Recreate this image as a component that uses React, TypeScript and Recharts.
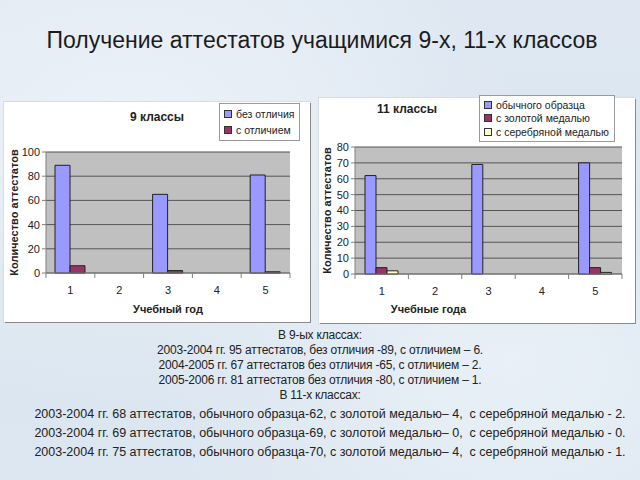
import React from 'react';
import { BarChart, Bar, XAxis, YAxis, CartesianGrid, Legend } from 'recharts';

const years = ['1', '2', '3', '4', '5'];

// 9 классы
const ninthPlain = [89, null, 65, null, 81];
const ninthHonors = [6, null, 2, null, 1];
const ninthTicks = [0, 20, 40, 60, 80, 100];

// 11 классы
const eleventhRegular = [62, null, 69, null, 70];
const eleventhGold = [4, null, null, null, 4];
const eleventhSilver = [2, null, null, null, 1];
const eleventhTicks = [0, 10, 20, 30, 40, 50, 60, 70, 80];

const summary9 = [
  'В 9-ых классах:',
  '2003-2004 гг. 95 аттестатов, без отличия -89, с отличием – 6.',
  '2004-2005 гг. 67 аттестатов без отличия -65, с отличием – 2.',
  '2005-2006 гг. 81 аттестатов без отличия -80, с отличием – 1.',
  'В 11-х классах:',
];
const summary11 = [
  '2003-2004 гг. 68 аттестатов, обычного образца-62, с золотой медалью– 4,  с серебряной медалью - 2.',
  '2003-2004 гг. 69 аттестатов, обычного образца-69, с золотой медалью– 0,  с серебряной медалью - 0.',
  '2003-2004 гг. 75 аттестатов, обычного образца-70, с золотой медалью– 4,  с серебряной медалью - 1.',
];

const FONT = '"Liberation Sans", Arial, sans-serif';

const ninthData = years.map((year, i) => ({ year, plain: ninthPlain[i], honors: ninthHonors[i] }));
const eleventhData = years.map((year, i) => ({
  year,
  regular: eleventhRegular[i],
  gold: eleventhGold[i],
  silver: eleventhSilver[i],
}));

// category tick: label under the centre, small marks on the category borders (like Excel)
const CategoryTick = (props: any) => {
  const { x, y, payload, index, band } = props;
  return (
    <g>
      <text x={x} y={y + 21} textAnchor="middle" fontSize={11} fill="#222" fontFamily={FONT}>
        {payload.value}
      </text>
      <line x1={x - band / 2} x2={x - band / 2} y1={y} y2={y + 5} stroke="#808080" />
      {index === years.length - 1 && (
        <line x1={x + band / 2} x2={x + band / 2} y1={y} y2={y + 5} stroke="#808080" />
      )}
    </g>
  );
};

const BoxLegend = ({ payload, rowHeight }: any) => (
  <div
    style={{
      border: '1px solid #9a9a9a',
      background: '#fff',
      padding: '2px 5px 2px 4px',
      fontFamily: FONT,
      fontSize: 10.5,
      color: '#222',
    }}
  >
    {(payload || []).map((entry: any) => (
      <div key={entry.value} style={{ display: 'flex', alignItems: 'center', height: rowHeight, whiteSpace: 'nowrap' }}>
        <span
          style={{
            display: 'inline-block',
            width: 6,
            height: 6,
            background: entry.color,
            border: '1px solid #333',
            marginRight: 4,
          }}
        />
        <span>{entry.value}</span>
      </div>
    ))}
  </div>
);

const axisTick = { fontSize: 11, fill: '#222', fontFamily: FONT };
const axisLabelStyle = { fontSize: 11, fontWeight: 'bold', fill: '#222', fontFamily: FONT, textAnchor: 'middle' };

const panelStyle = (left: number, top: number, width: number, height: number): React.CSSProperties => ({
  position: 'absolute',
  left,
  top,
  width,
  height,
  background: '#fff',
  boxShadow: '1px 1px 0 #8a8a8a, 0 0 0 1px #d6dde4',
});

const L = { left: 4, top: 102, width: 306, height: 220, yAxis: 42, margin: { top: 50, right: 20, bottom: 0, left: 0 } };
const R = { left: 319, top: 98, width: 316, height: 225, yAxis: 36, margin: { top: 49, right: 13, bottom: 0, left: 0 } };
const bandL = (L.width - L.margin.right - L.yAxis) / years.length;
const bandR = (R.width - R.margin.right - R.yAxis) / years.length;

export default function App() {
  return (
    <div
      style={{
        position: 'absolute',
        left: 0,
        top: 0,
        width: 640,
        height: 480,
        overflow: 'hidden',
        background:
          'radial-gradient(ellipse at 20% 30%, #eef3f9 0%, rgba(238,243,249,0) 55%), radial-gradient(ellipse at 80% 75%, #e9f0f7 0%, rgba(233,240,247,0) 50%), linear-gradient(180deg, #dfe8f2 0%, #d8e4ef 55%, #dde7f1 100%)',
        fontFamily: FONT,
      }}
    >
      <div
        style={{
          position: 'absolute',
          left: 0,
          width: 644,
          top: 26,
          textAlign: 'center',
          fontSize: 23,
          lineHeight: '28px',
          color: '#1c1c1c',
        }}
      >
        Получение аттестатов учащимися 9-х, 11-х классов
      </div>

      {/* 9 классы */}
      <div style={panelStyle(L.left, L.top, L.width, L.height)}>
        <BarChart width={L.width} height={L.height} data={ninthData} margin={L.margin} barSize={15} barGap={0}>
          <CartesianGrid vertical={false} stroke="#555" fill="#C0C0C0" />
          <XAxis
            dataKey="year"
            height={L.height - L.margin.top - 121}
            axisLine={{ stroke: '#808080' }}
            tickLine={false}
            tickSize={0}
            tickMargin={0}
            interval={0}
            tick={<CategoryTick band={bandL} />}
            label={{ value: 'Учебный год', position: 'insideBottom', offset: 9, style: axisLabelStyle }}
          />
          <YAxis
            width={L.yAxis}
            domain={[0, 100]}
            ticks={ninthTicks}
            interval={0}
            tick={axisTick}
            tickSize={4}
            tickMargin={2}
            axisLine={{ stroke: '#808080' }}
            tickLine={{ stroke: '#808080' }}
            label={{ value: 'Количество аттестатов', angle: -90, position: 'insideLeft', offset: 10, style: axisLabelStyle }}
          />
          <Legend
            layout="vertical"
            align="center"
            verticalAlign="middle"
            wrapperStyle={{ left: 215, top: 1, width: 'auto' }}
            content={(p: any) => <BoxLegend {...p} rowHeight={16} />}
          />
          <Bar dataKey="plain" name="без отличия" fill="#9999FF" stroke="#222" strokeWidth={1} isAnimationActive={false} />
          <Bar dataKey="honors" name="с отличием" fill="#993366" stroke="#222" strokeWidth={1} isAnimationActive={false} />
        </BarChart>
        <div style={{ position: 'absolute', left: 103, top: 8, width: 100, textAlign: 'center', fontSize: 12, fontWeight: 'bold', color: '#222' }}>
          9 классы
        </div>
      </div>

      {/* 11 классы */}
      <div style={panelStyle(R.left, R.top, R.width, R.height)}>
        <BarChart width={R.width} height={R.height} data={eleventhData} margin={R.margin} barSize={11} barGap={0}>
          <CartesianGrid vertical={false} stroke="#555" fill="#C0C0C0" />
          <XAxis
            dataKey="year"
            height={R.height - R.margin.top - 127}
            axisLine={{ stroke: '#808080' }}
            tickLine={false}
            tickSize={0}
            tickMargin={0}
            interval={0}
            tick={<CategoryTick band={bandR} />}
            label={{ value: 'Учебные года', position: 'insideBottom', offset: 10, dx: -60, style: axisLabelStyle }}
          />
          <YAxis
            width={R.yAxis}
            domain={[0, 80]}
            ticks={eleventhTicks}
            interval={0}
            tick={axisTick}
            tickSize={4}
            tickMargin={2}
            axisLine={{ stroke: '#808080' }}
            tickLine={{ stroke: '#808080' }}
            label={{ value: 'Количество аттестатов', angle: -90, position: 'insideLeft', offset: 8, style: axisLabelStyle }}
          />
          <Legend
            layout="vertical"
            align="center"
            verticalAlign="middle"
            wrapperStyle={{ left: 160, top: -3, width: 'auto' }}
            content={(p: any) => <BoxLegend {...p} rowHeight={13.5} />}
          />
          <Bar dataKey="regular" name="обычного образца" fill="#9999FF" stroke="#222" strokeWidth={1} isAnimationActive={false} />
          <Bar dataKey="gold" name="с золотой медалью" fill="#993366" stroke="#222" strokeWidth={1} isAnimationActive={false} />
          <Bar dataKey="silver" name="с серебряной медалью" fill="#FFFFCC" stroke="#222" strokeWidth={1} isAnimationActive={false} />
        </BarChart>
        <div style={{ position: 'absolute', left: 38, top: 4, width: 100, textAlign: 'center', fontSize: 12, fontWeight: 'bold', color: '#222' }}>
          11 классы
        </div>
      </div>

      {/* пояснения */}
      {summary9.map((line, i) => (
        <div
          key={line}
          style={{
            position: 'absolute',
            left: 0,
            width: 640,
            top: 327 + i * 15,
            textAlign: 'center',
            fontSize: 12,
            letterSpacing: -0.2,
            lineHeight: '16px',
            color: '#222',
          }}
        >
          {line}
        </div>
      ))}
      {summary11.map((line, i) => (
        <div
          key={line}
          style={{
            position: 'absolute',
            left: 0,
            width: 660,
            top: 406 + i * 19,
            textAlign: 'center',
            fontSize: 12.5,
            lineHeight: '16px',
            color: '#222',
            whiteSpace: 'pre',
          }}
        >
          {line}
        </div>
      ))}
    </div>
  );
}
